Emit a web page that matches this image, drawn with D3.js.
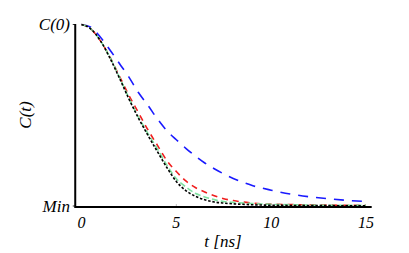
<!DOCTYPE html>
<html>
<head>
<meta charset="utf-8">
<script src="https://cdn.jsdelivr.net/npm/d3@7"></script>
<style>
  body { margin: 0; background: #fff; }
</style>
</head>
<body>
<svg id="chart" width="409" height="253"></svg>
<script>
// time grid (ns) shared by all series
const times = [0, 0.5, 1, 1.5, 2, 2.5, 3, 3.5, 4, 4.5, 5, 5.5, 6, 6.5, 7, 7.5, 8, 9, 10, 11, 12, 13, 14, 15];

// normalised correlation C(t)
const blueC  = [1, 0.985, 0.93, 0.86, 0.785, 0.71, 0.625, 0.555, 0.48, 0.415, 0.365, 0.318, 0.275, 0.237, 0.205, 0.177, 0.152, 0.113, 0.087, 0.066, 0.051, 0.04, 0.031, 0.025];
const redC   = [1, 0.975, 0.91, 0.82, 0.715, 0.61, 0.515, 0.42, 0.335, 0.25, 0.19, 0.138, 0.102, 0.077, 0.057, 0.04, 0.03, 0.016, 0.01, 0.008, 0.006, 0.005, 0.004, 0.004];
const greenC = [1, 0.975, 0.91, 0.82, 0.71, 0.595, 0.49, 0.4, 0.315, 0.225, 0.15, 0.105, 0.07, 0.05, 0.035, 0.025, 0.02, 0.014, 0.009, 0.007, 0.005, 0.004, 0.004, 0.004];
const blackC = [1, 0.975, 0.91, 0.815, 0.705, 0.59, 0.485, 0.39, 0.3, 0.212, 0.135, 0.085, 0.054, 0.034, 0.022, 0.016, 0.012, 0.007, 0.004, 0.003, 0.002, 0.002, 0.001, 0.001];

const xTicks = [0, 5, 10, 15];
const yTickLabels = ['Min', 'C(0)'];

const series = [
  { values: blueC,  color: '#1a1aff', dash: '10,8' },
  { values: redC,   color: '#f01e1e', dash: '6,5' },
  { values: greenC, color: '#7fe0a0', dash: '6,3' },
  { values: blackC, color: '#000',    dash: '2.5,1.8' }
];

const serif = "'Liberation Serif', 'Times New Roman', 'DejaVu Serif', serif";

const svg = d3.select('#chart')
  .attr('font-family', serif)
  .attr('font-style', 'italic');

const x = d3.scaleLinear().domain([0, 15]).range([81.5, 366]);
const y = d3.scaleLinear().domain([0, 1]).range([206, 24.5]);

const line = d3.line()
  .curve(d3.curveMonotoneX)
  .x((d, i) => x(times[i]))
  .y(d => y(d));

// frame: left and bottom
svg.append('path')
  .attr('d', `M${x(-0.33)},${y(1) - 0.5}V${y(0) + 1}H${x(15.3)}`)
  .attr('fill', 'none')
  .attr('stroke', '#000')
  .attr('stroke-width', 2);

// small ticks
svg.append('g')
  .selectAll('line')
  .data(xTicks.slice(1, 3))
  .join('line')
  .attr('x1', d => x(d)).attr('x2', d => x(d))
  .attr('y1', y(0)).attr('y2', y(0) - 2)
  .attr('stroke', '#999').attr('stroke-width', 0.6);

svg.append('g')
  .selectAll('line')
  .data([0, 1])
  .join('line')
  .attr('x1', x(-0.33) - 2.5).attr('x2', x(-0.33))
  .attr('y1', d => y(d)).attr('y2', d => y(d))
  .attr('stroke', '#000').attr('stroke-width', 0.8);

// curves
svg.append('g')
  .attr('fill', 'none')
  .attr('stroke-width', 1.6)
  .selectAll('path')
  .data(series)
  .join('path')
  .attr('stroke', d => d.color)
  .attr('stroke-dasharray', d => d.dash)
  .attr('d', d => line(d.values));

// tick labels
svg.append('g')
  .attr('font-size', 16)
  .attr('text-anchor', 'middle')
  .selectAll('text')
  .data(xTicks)
  .join('text')
  .attr('x', d => x(d))
  .attr('y', 228)
  .text(d => d);

svg.append('g')
  .attr('font-size', 17)
  .attr('text-anchor', 'end')
  .selectAll('text')
  .data(yTickLabels)
  .join('text')
  .attr('x', 70)
  .attr('y', (d, i) => y(i))
  .attr('dy', '0.33em')
  .text(d => d);

// axis titles
svg.append('text')
  .attr('x', 223)
  .attr('y', 247)
  .attr('text-anchor', 'middle')
  .attr('font-size', 17)
  .text('t [ns]');

svg.append('text')
  .attr('transform', 'translate(31,115) rotate(-90)')
  .attr('text-anchor', 'middle')
  .attr('font-size', 17)
  .text('C(t)');
</script>
</body>
</html>
